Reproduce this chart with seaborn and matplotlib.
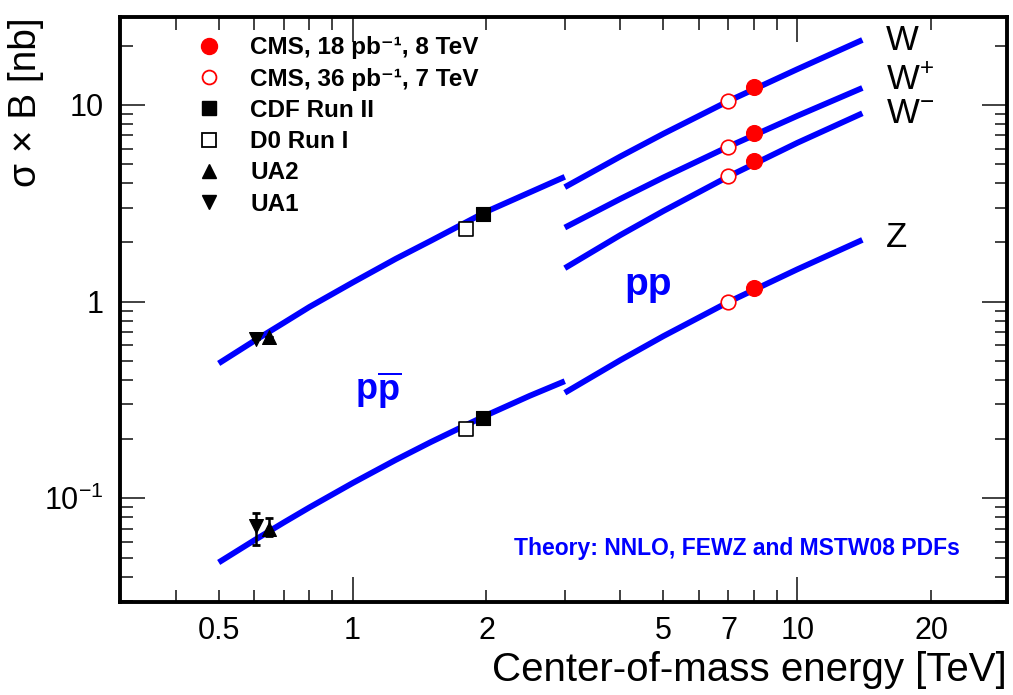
"""W and Z production cross sections vs centre-of-mass energy, theory curves + measurements."""

import matplotlib
matplotlib.use('Agg')
import matplotlib.pyplot as plt
import seaborn as sns
from matplotlib.lines import Line2D
from matplotlib.ticker import FixedLocator, FuncFormatter, NullFormatter

# theory curves (NNLO, FEWZ, MSTW08)
ppbar_x = [0.5, 0.6, 0.7, 0.8, 1.0, 1.25, 1.5, 2.0, 2.5, 3.0]
ppbar_W = [0.485, 0.63, 0.78, 0.94, 1.25, 1.65, 2.04, 2.87, 3.59, 4.31]
ppbar_Z = [0.0472, 0.061, 0.0753, 0.0899, 0.1195, 0.1567, 0.1933, 0.2645, 0.3317, 0.394]

pp_x = [3.0, 4.0, 5.0, 7.0, 10.0, 14.0]
pp_W = [3.82, 5.47, 7.14, 10.47, 15.2, 21.4]
pp_Wp = [2.38, 3.33, 4.28, 6.14, 8.8, 12.2]
pp_Wm = [1.48, 2.18, 2.89, 4.33, 6.42, 9.07]
pp_Z = [0.344, 0.504, 0.668, 0.996, 1.46, 2.06]

# measurements
cms8_x = [8.0, 8.0, 8.0, 8.0]
cms8_y = [12.4, 7.23, 5.18, 1.17]
cms7_x = [7.0, 7.0, 7.0, 7.0]
cms7_y = [10.47, 6.14, 4.36, 0.99]
cdf_x = [1.96, 1.96]
cdf_y = [2.80, 0.257]
d0_x = [1.8, 1.8]
d0_y = [2.34, 0.224]
ua2_x = [0.65, 0.65]
ua2_y = [0.664, 0.0696]
ua2_lo = [0.0, 0.0056]
ua2_hi = [0.0, 0.0094]
ua1_x = [0.608, 0.608]
ua1_y = [0.648, 0.072]
ua1_lo = [0.0, 0.014]
ua1_hi = [0.0, 0.012]

sns.set_style('white')
plt.rcParams['font.family'] = ['Liberation Sans', 'DejaVu Sans']
plt.rcParams['mathtext.fontset'] = 'custom'
plt.rcParams['mathtext.rm'] = 'Liberation Sans'
plt.rcParams['mathtext.bf'] = 'Liberation Sans:bold'
plt.rcParams['mathtext.default'] = 'regular'
plt.rcParams['text.color'] = 'black'
plt.rcParams['axes.labelcolor'] = 'black'

fig, ax = plt.subplots(figsize=(10.13, 6.95), dpi=100)
fig.subplots_adjust(left=120/1013, right=1007/1013, top=1-17/695, bottom=1-602/695)

blue = '#0000ff'
curves = [(ppbar_x, ppbar_W), (ppbar_x, ppbar_Z), (pp_x, pp_W),
          (pp_x, pp_Wp), (pp_x, pp_Wm), (pp_x, pp_Z)]
for cx, cy in curves:
    sns.lineplot(x=cx, y=cy, ax=ax, color=blue, lw=4.2, sort=True,
                 estimator=None, solid_capstyle='butt')

ms = 10
ax.errorbar(ua1_x, ua1_y, yerr=[ua1_lo, ua1_hi], fmt='none', ecolor='black',
            elinewidth=1.8, capsize=3, capthick=2, zorder=4)
ax.errorbar(ua2_x, ua2_y, yerr=[ua2_lo, ua2_hi], fmt='none', ecolor='black',
            elinewidth=1.8, capsize=3, capthick=2, zorder=4)
sns.scatterplot(x=cms8_x, y=cms8_y, ax=ax, marker='o', s=ms**2 * 1.3,
                color='red', edgecolor='red', zorder=5)
sns.scatterplot(x=cms7_x, y=cms7_y, ax=ax, marker='o', s=ms**2 * 1.1,
                facecolor='white', edgecolor='red', linewidth=1.2, zorder=5)
sns.scatterplot(x=cdf_x, y=cdf_y, ax=ax, marker='s', s=ms**2,
                color='black', edgecolor='black', zorder=5)
sns.scatterplot(x=d0_x, y=d0_y, ax=ax, marker='s', s=ms**2,
                facecolor='white', edgecolor='black', linewidth=1.2, zorder=5)
sns.scatterplot(x=ua2_x, y=ua2_y, ax=ax, marker='^', s=ms**2,
                color='black', edgecolor='black', zorder=5)
sns.scatterplot(x=ua1_x, y=ua1_y, ax=ax, marker='v', s=ms**2,
                color='black', edgecolor='black', zorder=5)

ax.set_xscale('log')
ax.set_yscale('log')
ax.set_xlim(0.3, 29.6)
ax.set_ylim(0.0297, 28)

# ROOT style ticks: inside, on every side
ax.xaxis.set_major_locator(FixedLocator([1, 10]))
ax.xaxis.set_minor_locator(FixedLocator([0.3, 0.4, 0.5, 0.6, 0.7, 0.8, 0.9,
                                         2, 3, 4, 5, 6, 7, 8, 9, 20]))
ax.xaxis.set_major_formatter(FuncFormatter(lambda v, p: '%g' % v))
minor_lab = {0.5: '0.5', 2: '2', 5: '5', 7: '7', 20: '20'}
ax.xaxis.set_minor_formatter(FuncFormatter(
    lambda v, p: minor_lab.get(round(v, 2), '')))
ax.yaxis.set_major_locator(FixedLocator([0.1, 1, 10]))
ax.yaxis.set_minor_locator(FixedLocator(
    [0.03, 0.04, 0.05, 0.06, 0.07, 0.08, 0.09] +
    [0.2, 0.3, 0.4, 0.5, 0.6, 0.7, 0.8, 0.9] +
    [2, 3, 4, 5, 6, 7, 8, 9, 20]))
ylab = {0.1: '$10^{-1}$', 1: '1', 10: '10'}
ax.yaxis.set_major_formatter(FuncFormatter(lambda v, p: ylab.get(round(v, 2), '')))
ax.yaxis.set_minor_formatter(NullFormatter())

ax.tick_params(which='both', direction='in', top=True, right=True,
               bottom=True, left=True, color='#333333', labelcolor='black',
               labelsize=22)
ax.tick_params(which='major', length=18, width=1.3)
ax.tick_params(which='minor', length=9, width=1.3)
ax.tick_params(axis='x', which='both', pad=10)
ax.tick_params(axis='y', which='both', pad=12)
for sp in ax.spines.values():
    sp.set_linewidth(2.8)
    sp.set_color('black')

ax.set_xlabel('Center-of-mass energy [TeV]', fontsize=29, loc='right', labelpad=4)
ax.set_ylabel('σ × B [nb]', fontsize=28, loc='top')
ax.yaxis.set_label_coords(-0.086, 1.0)

# curve labels
ax.text(15.8, 19.0, 'W', fontsize=25, va='baseline')
ax.text(15.8, 11.9, 'W$^{+}$', fontsize=25, va='baseline')
ax.text(15.8, 8.11, 'W$^{-}$', fontsize=25, va='baseline')
ax.text(15.8, 1.90, 'Z', fontsize=25, va='baseline')
ax.text(1.144, 0.355, r'$\mathbf{p\overline{p}}$', fontsize=26, color=blue,
        ha='center', va='center')
ax.text(4.63, 1.22, 'pp', fontsize=28, color=blue, fontweight='bold',
        ha='center', va='center')
ax.text(0.947, 0.0923, 'Theory: NNLO, FEWZ and MSTW08 PDFs', transform=ax.transAxes,
        fontsize=16.5, color=blue, fontweight='bold', ha='right', va='center')

handles = [
    Line2D([], [], ls='none', marker='o', color='red', markersize=11.5),
    Line2D([], [], ls='none', marker='o', markerfacecolor='white',
           markeredgecolor='red', markersize=10, markeredgewidth=1.3),
    Line2D([], [], ls='none', marker='s', color='black', markersize=9.5),
    Line2D([], [], ls='none', marker='s', markerfacecolor='white',
           markeredgecolor='black', markersize=9.5, markeredgewidth=1.3),
    Line2D([], [], ls='none', marker='^', color='black', markersize=10),
    Line2D([], [], ls='none', marker='v', color='black', markersize=10),
]
labels = ['CMS, 18 pb\u207b\u00b9, 8 TeV', 'CMS, 36 pb\u207b\u00b9, 7 TeV',
          'CDF Run II', 'D0 Run I', 'UA2', 'UA1']
ax.legend(handles, labels, loc='upper left', bbox_to_anchor=(0.0868, 0.967),
          frameon=False, prop={'weight': 'bold', 'size': 17.5},
          handlelength=1.0, handletextpad=1.19, labelspacing=0.34,
          borderaxespad=0, borderpad=0)

fig.savefig('out.png', dpi=100)
